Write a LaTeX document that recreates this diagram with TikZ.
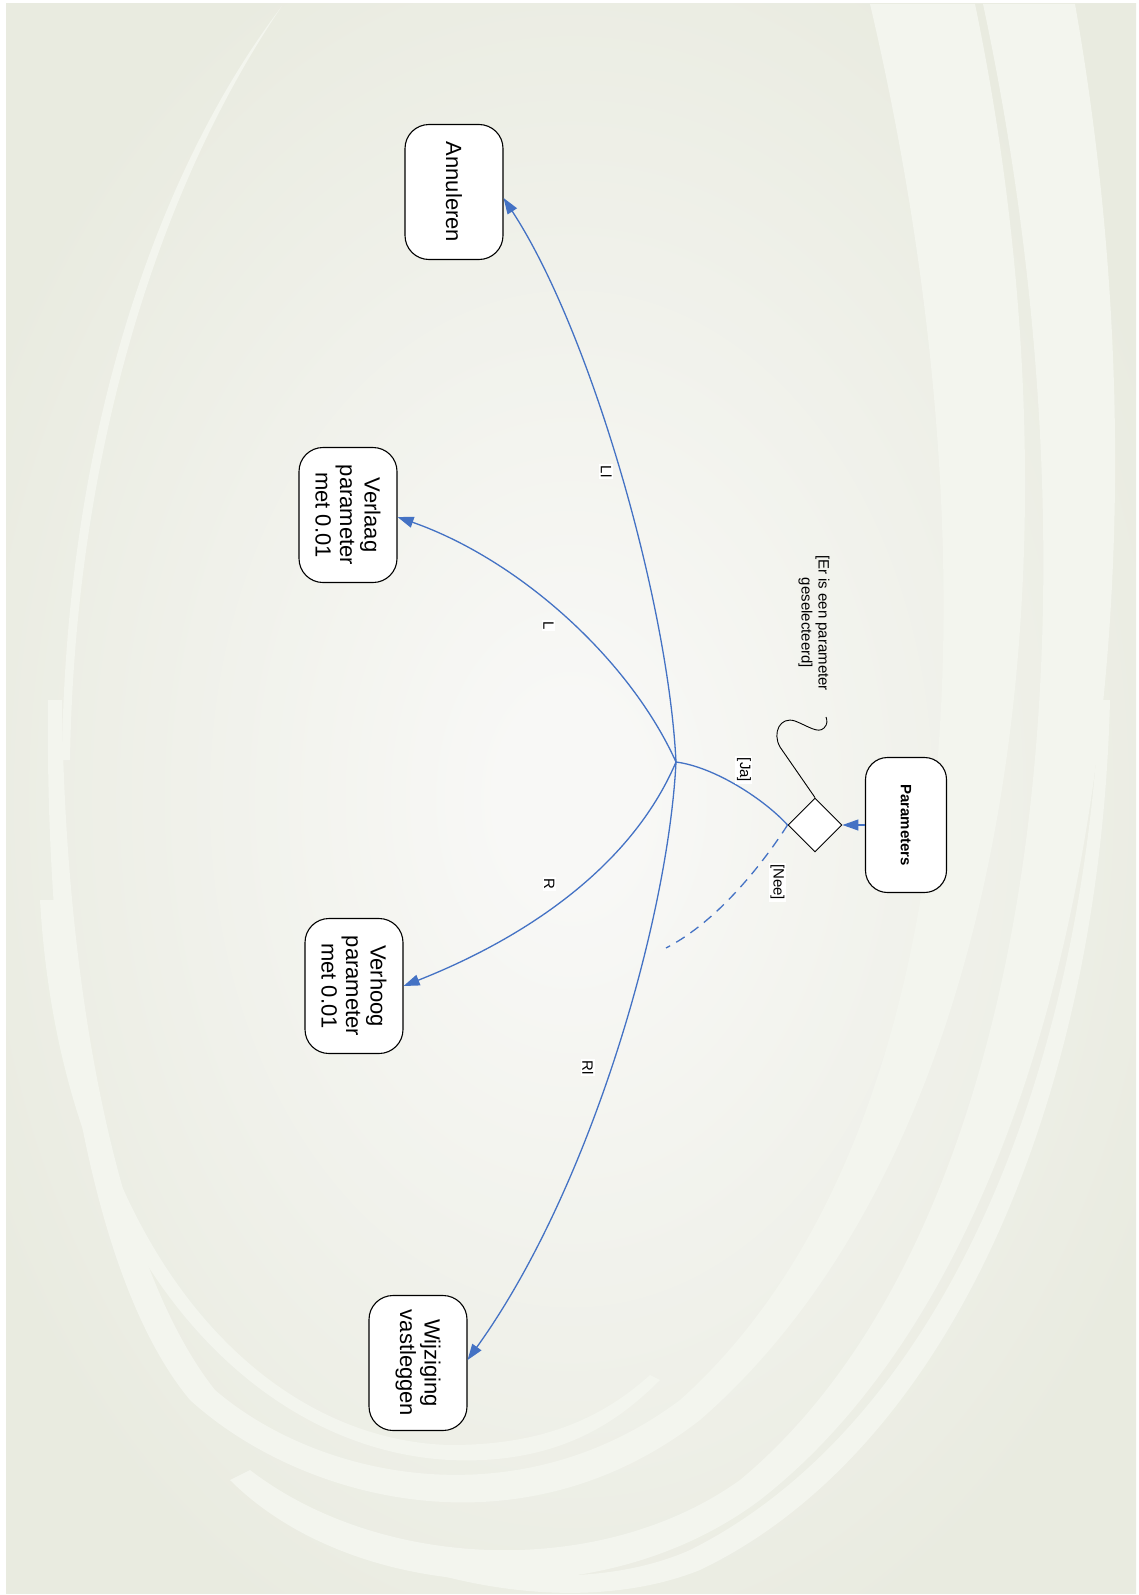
\documentclass[tikz,border=0pt]{standalone}
\usepackage{fontspec}
\setmainfont{Liberation Sans}
\usepackage{tikz}
\usetikzlibrary{arrows.meta,shapes.geometric}

\definecolor{bgbase}{RGB}{233,235,224}
\definecolor{bgglow}{RGB}{248,248,246}
\definecolor{swooshcol}{RGB}{243,245,238}
\definecolor{flowblue}{RGB}{68,114,196}

\pgfdeclareradialshading{glow}{\pgfpoint{0bp}{0bp}}{%
  color(0bp)=(bgglow); color(3bp)=(bgglow); color(29bp)=(bgbase);
  color(50bp)=(bgbase)}

\begin{document}
\begin{tikzpicture}[
  x=1pt, y=-1pt,
  >={Triangle[length=16pt, width=11pt]},
  act/.style={draw, fill=white, line width=1.1pt, rounded corners=24pt,
              rotate=-90, align=center, minimum width=135pt,
              minimum height=98pt, inner sep=2pt,
              font=\fontsize{22}{24.5}\selectfont},
  src/.style={act, minimum height=81pt, rounded corners=22pt,
              font=\fontsize{15}{17}\selectfont\bfseries},
  decision/.style={diamond, draw, fill=white, line width=0.9pt,
                   minimum width=54pt, minimum height=54pt, inner sep=0pt},
  flow/.style={draw=flowblue, line width=1.3pt},
  lbl/.style={fill=white, inner sep=1.5pt, rotate=-90,
              font=\fontsize{15}{17}\selectfont},
  swoosh/.style={fill=swooshcol, draw=none},
]
\useasboundingbox (0,0) rectangle (1139,1595);
% backdrop with light swooshes
\shade[shading=glow] (6,4) rectangle (1136,1593);
\begin{scope}
  \clip (6,4) rectangle (1136,1593);
  \fill[swoosh] (975,4) .. controls (1090,560) and (1010,1150) .. (700,1420)
    .. controls (520,1560) and (300,1500) .. (190,1400)
    .. controls (90,1280) and (45,1000) .. (48,700)
    -- (62,700) .. controls (65,1000) and (120,1270) .. (215,1390)
    .. controls (320,1480) and (520,1520) .. (680,1400)
    .. controls (970,1140) and (1000,560) .. (870,4) -- cycle;
  \fill[swoosh] (1075,4) .. controls (1180,600) and (1080,1250) .. (760,1500)
    .. controls (600,1620) and (350,1600) .. (230,1480)
    -- (250,1470) .. controls (380,1570) and (600,1580) .. (740,1480)
    .. controls (1040,1230) and (1110,600) .. (983,4) -- cycle;
  \fill[swoosh] (1110,700) .. controls (1100,1100) and (950,1450) .. (700,1570)
    .. controls (600,1610) and (450,1600) .. (300,1520)
    -- (320,1520) .. controls (460,1585) and (600,1590) .. (690,1550)
    .. controls (930,1430) and (1080,1100) .. (1100,700) -- cycle;
  \fill[swoosh] (40,900) .. controls (60,1250) and (250,1450) .. (450,1460)
    .. controls (560,1465) and (620,1420) .. (660,1380)
    -- (650,1375) .. controls (600,1420) and (540,1445) .. (450,1445)
    .. controls (260,1440) and (80,1250) .. (55,900) -- cycle;
  \fill[swoosh] (282,6) .. controls (150,180) and (65,450) .. (62,760)
    -- (70,760) .. controls (75,450) and (160,185) .. (282,6) -- cycle;
\end{scope}

% actions
\node[act] (ann) at (454,192) {Annuleren};
\node[act] (vlg) at (348,515) {Verlaag\\parameter\\met 0.01};
\node[act] (vhg) at (354,986) {Verhoog\\parameter\\met 0.01};
\node[act] (wzg) at (418,1363) {Wijziging\\vastleggen};
\node[src] (par) at (906,825) {Parameters};
\node[decision] (dec) at (815,825) {};
\coordinate (hub) at (676,762);
\coordinate (neeEnd) at (666,948);
\coordinate (noteEnd) at (826,717);

% guard note
\node[rotate=-90, align=center, font=\fontsize{15}{17}\selectfont]
  (note) at (814,623) {[Er is een parameter\\geselecteerd]};
\draw[line width=0.9pt] (dec.north) -- (780,747)
  .. controls (772,733) and (780,716) .. (795,721)
  .. controls (808,726) and (818,734) .. (824,728)
  .. controls (828,724) and (827,720) .. (noteEnd);

% decision and branches
\draw[flow, ->] (par) -- (dec);
\draw[flow] (dec.west) .. controls (765,800) and (715,767) .. (hub)
  node[xshift=6pt, yshift=16pt, lbl, pos=0.5] (tagJa) {[Ja]};
\draw[flow, dash pattern=on 10pt off 7pt] (dec.west)
  .. controls (765,860) and (720,920) .. (neeEnd)
  node[xshift=39pt, yshift=7pt, lbl, pos=0.5] (tagNee) {[Nee]};
\draw[flow, ->] (hub) .. controls (668,600) and (590,330) .. ([yshift=-6pt]ann.north)
  node[xshift=-13pt, yshift=-3pt, lbl, pos=0.5] (tagLl) {Ll};
\draw[flow, ->] (hub) .. controls (630,660) and (520,560) .. ([yshift=-2pt]vlg.north)
  node[xshift=-17pt, yshift=-8pt, lbl, pos=0.5] (tagL) {L};
\draw[flow, ->] (hub) .. controls (630,870) and (520,940) .. (vhg.north)
  node[xshift=-17pt, yshift=13pt, lbl, pos=0.5] (tagR) {R};
\draw[flow, ->] (hub) .. controls (668,920) and (590,1190) .. ([yshift=3pt]wzg.north)
  node[xshift=-27pt, yshift=-11pt, lbl, pos=0.5] (tagRl) {Rl};
\end{tikzpicture}
\end{document}
